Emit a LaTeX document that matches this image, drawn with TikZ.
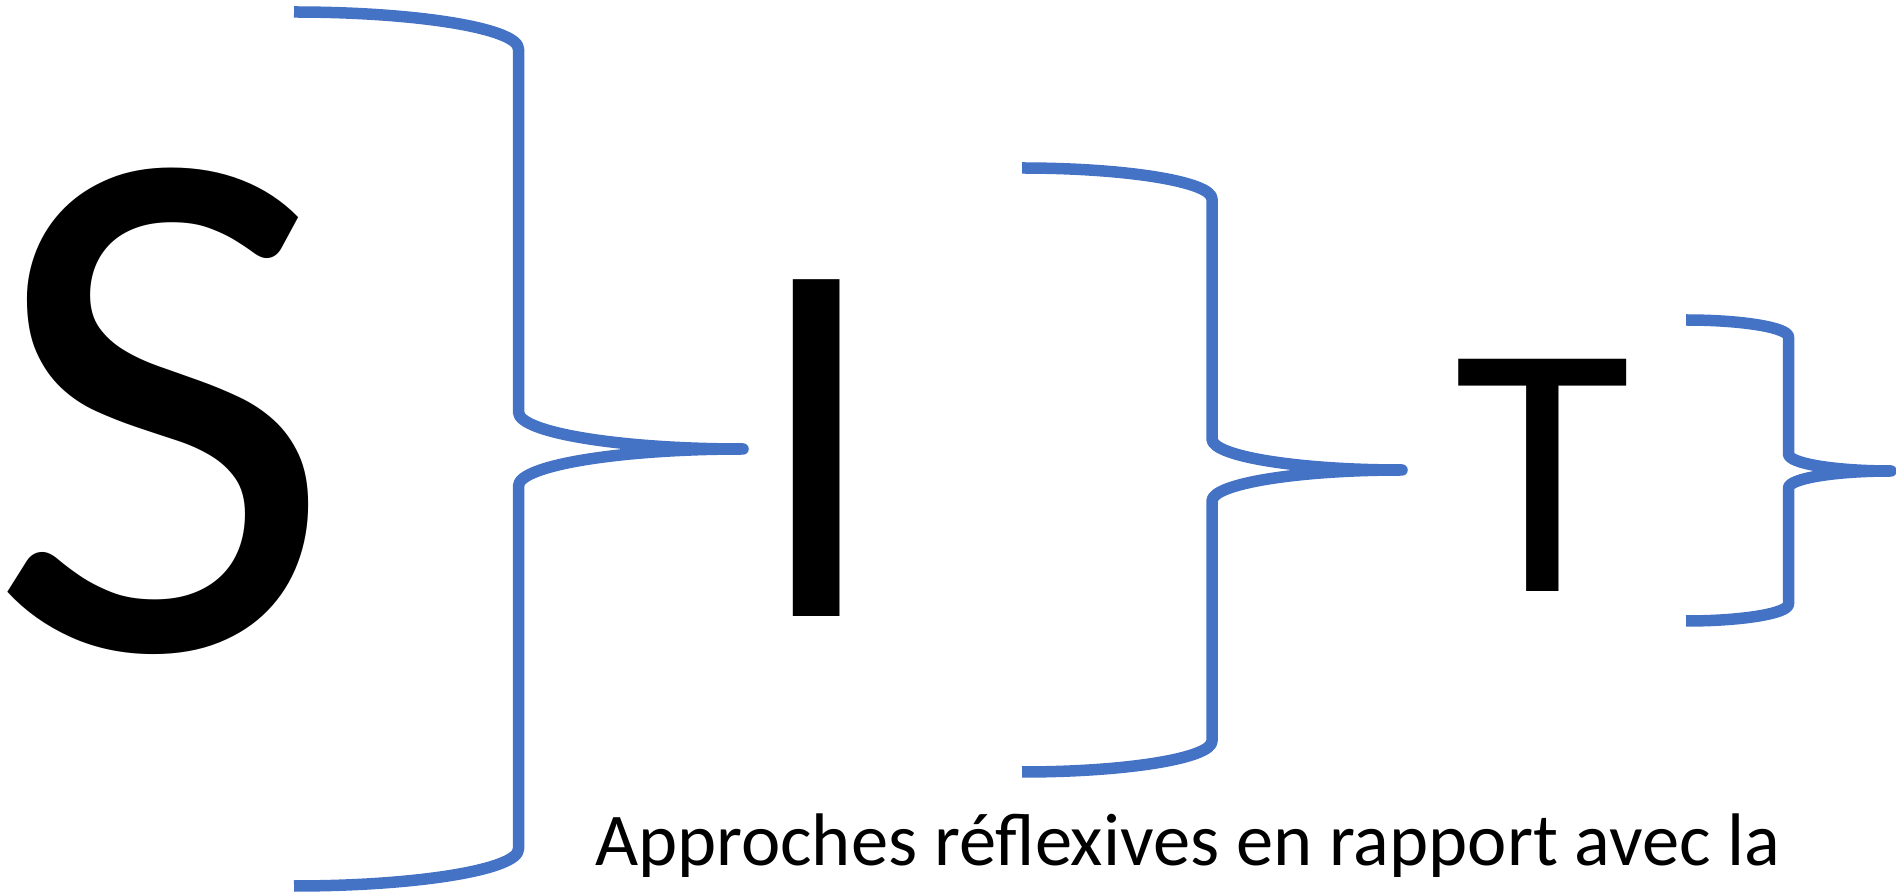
\documentclass[tikz,border=0pt]{standalone}
\usepackage{fontspec}
\setmainfont{Carlito}
\definecolor{braceblue}{HTML}{4472C4}
\tikzset{
  bracepath/.style={draw=braceblue, line width=11.5pt, line cap=butt, line join=round},
  bigletter/.style={inner sep=0pt, outer sep=0pt, anchor=base, text=black},
  captiontext/.style={inner sep=0pt, outer sep=0pt, anchor=base west, text=black, font=\fontsize{74.5}{80}\selectfont}
}
\begin{document}
\begin{tikzpicture}[x=1pt,y=1pt]
\useasboundingbox (0,0) rectangle (1896,892);
% letters
\node[bigletter, inner xsep=-20pt, xscale=1.02, font=\fontsize{742}{742}\selectfont] (S) at (161,242) {S};
\node[bigletter, font=\fontsize{525}{525}\selectfont] (I) at (816.5,275) {I};
\node[bigletter, font=\fontsize{362}{362}\selectfont] (T) at (1543,300) {T};
\node[captiontext] (cap) at (595,27) {Approches réflexives en rapport avec la};
% brace 1
\coordinate (b1tip) at (743,443);
\draw[bracepath] (294,880) arc[start angle=90, end angle=0, x radius=224.5, y radius=37]
  -- (518.5,480) arc[start angle=180, end angle=270, x radius=224.5, y radius=37]
  arc[start angle=90, end angle=180, x radius=224.5, y radius=37]
  -- (518.5,43) arc[start angle=0, end angle=-90, x radius=224.5, y radius=37];
% brace 2
\coordinate (b2tip) at (1402,422);
\draw[bracepath] (1022,724) arc[start angle=90, end angle=0, x radius=190, y radius=31]
  -- (1212,453) arc[start angle=180, end angle=270, x radius=190, y radius=31]
  arc[start angle=90, end angle=180, x radius=190, y radius=31]
  -- (1212,151) arc[start angle=0, end angle=-90, x radius=190, y radius=31];
% brace 3
\coordinate (b3tip) at (1891,421);
\draw[bracepath] (1686,572) arc[start angle=90, end angle=0, x radius=102.5, y radius=17]
  -- (1788.5,438) arc[start angle=180, end angle=270, x radius=102.5, y radius=17]
  arc[start angle=90, end angle=180, x radius=102.5, y radius=17]
  -- (1788.5,288) arc[start angle=0, end angle=-90, x radius=102.5, y radius=17];
\end{tikzpicture}
\end{document}
